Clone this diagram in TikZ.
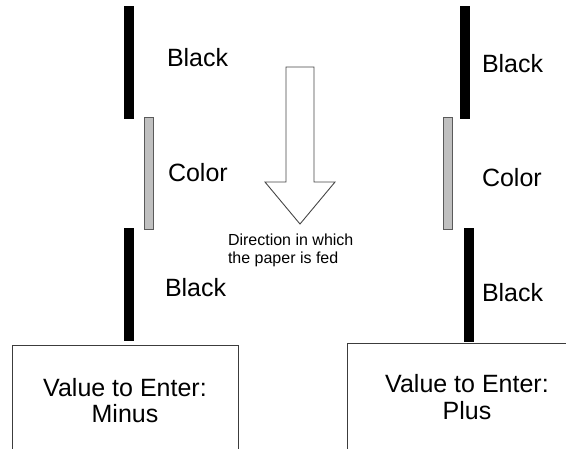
\documentclass[tikz,border=0pt]{standalone}
\usepackage{fontspec}
\setsansfont{Liberation Sans}
\begin{document}
\begin{tikzpicture}[x=1pt,y=-1pt,
  blackbar/.style={fill=black,draw=black,line width=0.5pt},
  colorbar/.style={fill={rgb,255:red,192;green,192;blue,192},draw={rgb,255:red,90;green,90;blue,90},line width=0.8pt},
  valbox/.style={fill=white,draw={rgb,255:red,60;green,60;blue,60},line width=0.9pt},
  feedarrow/.style={fill=white,draw={rgb,255:red,70;green,70;blue,70},line width=0.9pt},
  biglabel/.style={inner sep=0pt,outer sep=0pt,anchor=base west,font=\sffamily\fontsize{25}{27}\selectfont},
  boxtext/.style={inner sep=0pt,outer sep=0pt,anchor=base,font=\sffamily\fontsize{25}{27}\selectfont},
  smalltext/.style={inner sep=0pt,outer sep=0pt,anchor=base west,font=\sffamily\fontsize{16}{18}\selectfont}]
\path[use as bounding box] (0,0) rectangle (566,448);
\clip (0,0) rectangle (566,448);
% left strip: Minus
\path[blackbar] (124.5,6) rectangle (133.5,118);
\path[colorbar] (144.5,117) rectangle (153.5,229);
\path[blackbar] (124.5,228) rectangle (133.5,340);
\node[biglabel] (lblack1) at (167,66) {Black};
\node[biglabel] (lcolor) at (168,181) {Color};
\node[biglabel] (lblack2) at (165,296) {Black};
\path[valbox] (12,345) rectangle (238,460);
\node[boxtext] (lvalue) at (125,396) {Value to Enter:};
\node[boxtext] (lminus) at (125,422) {Minus};
% paper feed arrow
\path[feedarrow] (286,67) -- (314,67) -- (314,182) -- (335,182) -- (300,224)
  -- (265,182) -- (286,182) -- cycle;
\node[smalltext] (feed1) at (228,245) {Direction in which};
\node[smalltext] (feed2) at (228,263) {the paper is fed};
% right strip: Plus
\path[blackbar] (460.5,6) rectangle (469.5,118);
\path[colorbar] (443.5,117) rectangle (452.5,229);
\path[blackbar] (464.5,228) rectangle (473.5,341);
\node[biglabel] (rblack1) at (482,72) {Black};
\node[biglabel] (rcolor) at (482,186) {Color};
\node[biglabel] (rblack2) at (482,301) {Black};
\path[valbox] (347,343) rectangle (600,460);
\node[boxtext] (rvalue) at (467,392) {Value to Enter:};
\node[boxtext] (rplus) at (467,419) {Plus};
\end{tikzpicture}
\end{document}
